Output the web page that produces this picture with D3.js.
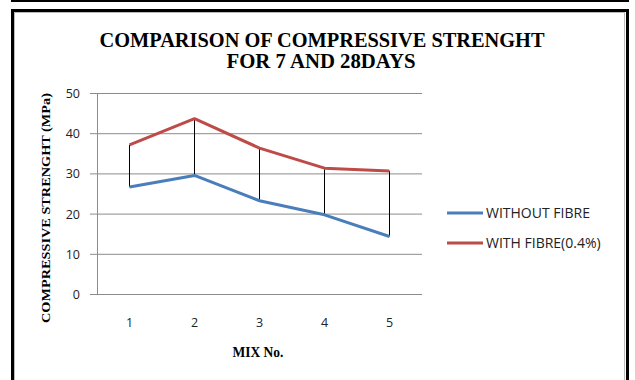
<!DOCTYPE html>
<html><head><meta charset="utf-8">
<script src="https://cdn.jsdelivr.net/npm/d3@7"></script>
<style>body{margin:0;background:#fff}svg{display:block}</style>
</head><body>
<svg id="c" width="635" height="380"></svg>
<script>
const mixes = ["1","2","3","4","5"];
const withoutFibre = [26.6, 29.5, 23.2, 19.7, 14.3];
const withFibre = [37.1, 43.6, 36.3, 31.3, 30.6];
const yTicks = [0,10,20,30,40,50];
const seriesNames = ["WITHOUT FIBRE","WITH FIBRE(0.4%)"];
const seriesColors = ["#4a7ebb","#be4b48"];

const svg = d3.select("#c");
// frame
svg.append("line").attr("x1",11).attr("x2",629).attr("y1",1).attr("y2",1).attr("stroke","#000").attr("stroke-width",2);
svg.append("rect").attr("x",12.5).attr("y",10.5).attr("width",615).attr("height",380).attr("fill","none").attr("stroke","#000").attr("stroke-width",3);
svg.append("rect").attr("x",14.5).attr("y",12.5).attr("width",610).attr("height",380).attr("fill","none").attr("stroke","#bbb").attr("stroke-width",1);

const x = d3.scaleBand().domain(mixes).range([97,422]);
const y = d3.scaleLinear().domain([0,50]).range([294,93]);

const g = svg.append("g");
g.selectAll(".grid").data(yTicks).enter().append("line")
 .attr("x1",90).attr("x2",422).attr("y1",d=>y(d)+0.5).attr("y2",d=>y(d)+0.5)
 .attr("stroke","#8c8c8c").attr("stroke-width",1);
g.append("line").attr("x1",97.5).attr("x2",97.5).attr("y1",y(50)).attr("y2",y(0)).attr("stroke","#8c8c8c");

g.selectAll(".yl").data(yTicks).enter().append("text")
 .attr("x",80).attr("y",d=>y(d)+5).attr("text-anchor","end")
 .attr("font-family","Open Sans, sans-serif").attr("font-size",12.5).attr("fill","#222").text(d=>d);
g.selectAll(".xl").data(mixes).enter().append("text")
 .attr("x",d=>x(d)+x.bandwidth()/2).attr("y",327).attr("text-anchor","middle")
 .attr("font-family","Open Sans, sans-serif").attr("font-size",12.5).attr("fill","#222").text(d=>d);

g.selectAll(".hl").data(mixes).enter().append("line")
 .attr("x1",d=>x(d)+x.bandwidth()/2).attr("x2",d=>x(d)+x.bandwidth()/2)
 .attr("y1",(d,i)=>y(withFibre[i])).attr("y2",(d,i)=>y(withoutFibre[i]))
 .attr("stroke","#000").attr("stroke-width",1);

const line = d3.line().x((d,i)=>x(mixes[i])+x.bandwidth()/2).y(d=>y(d));
[withoutFibre, withFibre].forEach((s,k)=>{
  g.append("path").attr("d",line(s)).attr("fill","none").attr("stroke",seriesColors[k]).attr("stroke-width",3).attr("stroke-linejoin","round");
});

const legY = [213, 243];
seriesNames.forEach((n,k)=>{
  svg.append("line").attr("x1",447).attr("x2",483).attr("y1",legY[k]).attr("y2",legY[k]).attr("stroke",seriesColors[k]).attr("stroke-width",3);
  svg.append("text").attr("x",486).attr("y",legY[k]+5).attr("font-family","Open Sans, sans-serif").attr("font-size",14).attr("fill","#222").text(n);
});

const title = svg.append("text").attr("text-anchor","middle").attr("font-family","Liberation Serif, Times New Roman, serif").attr("font-weight","bold").attr("font-size",20.5).attr("fill","#000");
title.append("tspan").attr("x",322).attr("y",47).attr("textLength",445).attr("lengthAdjust","spacingAndGlyphs").text("COMPARISON OF COMPRESSIVE STRENGHT");
title.append("tspan").attr("x",321).attr("y",68).attr("textLength",189).attr("lengthAdjust","spacingAndGlyphs").text("FOR 7 AND 28DAYS");

svg.append("text").attr("transform","translate(50,208) rotate(-90)").attr("text-anchor","middle")
 .attr("font-family","Liberation Serif, serif").attr("font-weight","bold").attr("font-size",13)
 .attr("textLength",230).attr("lengthAdjust","spacingAndGlyphs").text("COMPRESSIVE STRENGHT (MPa)");
svg.append("text").attr("x",258).attr("y",357).attr("text-anchor","middle")
 .attr("font-family","Liberation Serif, serif").attr("font-weight","bold").attr("font-size",14)
 .attr("textLength",51).attr("lengthAdjust","spacingAndGlyphs").text("MIX No.");
</script>
</body></html>
